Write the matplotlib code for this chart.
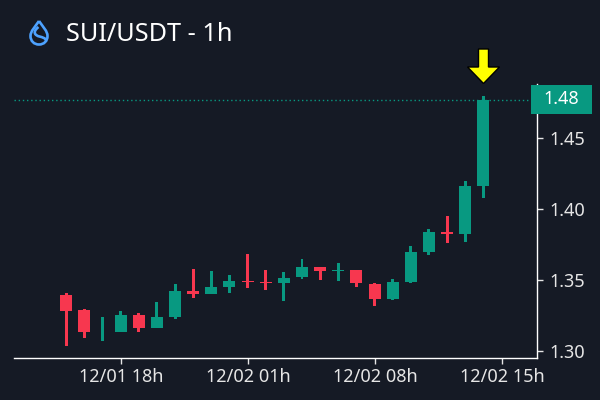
import matplotlib
matplotlib.use("Agg")
import matplotlib.pyplot as plt
import matplotlib.dates as mdates
from matplotlib.patches import Polygon, PathPatch, Rectangle
from matplotlib.path import Path
from datetime import datetime, timedelta

# hourly candles, 12/01 15h to 12/02 14h
start = datetime(2024, 12, 1, 15)
opens = [1.3394, 1.3288, 1.3070, 1.3134, 1.3253, 1.3162, 1.3239, 1.3422, 1.3401, 1.3450, 1.3492, 1.3485,
         1.3478, 1.3520, 1.3591, 1.3563, 1.3570, 1.3471, 1.3366, 1.3485, 1.3696, 1.3837, 1.3823, 1.4160]
closes = [1.3281, 1.3134, 1.3070, 1.3253, 1.3162, 1.3239, 1.3422, 1.3401, 1.3450, 1.3492, 1.3485, 1.3478,
          1.3513, 1.3591, 1.3563, 1.3570, 1.3478, 1.3366, 1.3485, 1.3696, 1.3837, 1.3823, 1.4160, 1.4762]
highs = [1.3408, 1.3295, 1.3239, 1.3281, 1.3267, 1.3345, 1.3471, 1.3577, 1.3563, 1.3534, 1.3682, 1.3570,
         1.3556, 1.3647, 1.3591, 1.3619, 1.3570, 1.3478, 1.3506, 1.3738, 1.3858, 1.3949, 1.4195, 1.4793]
lows = [1.3035, 1.3091, 1.3070, 1.3134, 1.3134, 1.3162, 1.3225, 1.3373, 1.3401, 1.3408, 1.3443, 1.3429,
        1.3352, 1.3506, 1.3499, 1.3492, 1.3450, 1.3316, 1.3359, 1.3478, 1.3675, 1.3759, 1.3766, 1.4076]
up_flags = [False, False, True, True, False, True, True, False, True, True, False, False,
            True, True, False, True, False, False, True, True, True, False, True, True]
yticks = [1.30, 1.35, 1.40, 1.45]
xticks = [datetime(2024, 12, 1, 18), datetime(2024, 12, 2, 1), datetime(2024, 12, 2, 8), datetime(2024, 12, 2, 15)]
last_price = 1.4762
title = "SUI/USDT - 1h"

BG = "#151a25"
GREEN = "#089981"
RED = "#f7374f"
FG = "#e6e6e6"
FONT = "Noto Sans"

plt.rcParams["font.family"] = FONT
W, H = 600, 400
fig = plt.figure(figsize=(W / 100, H / 100), dpi=100, facecolor=BG)

# axes box in pixels: x 14-536.5, y 84-358
ax = fig.add_axes([14 / W, (H - 358) / H, 522.5 / W, 274 / H], facecolor=BG)
hour = 1 / 24
times = [mdates.date2num(start + timedelta(hours=i)) for i in range(len(opens))]
# candles sit a bit left of the tick in the reference
shift = -0.7 / 18.14 * hour
body_w = hour * 12 / 18.14
wick_w = hour * 3 / 18.14

for t, o, c, hi, lo, up in zip(times, opens, closes, highs, lows, up_flags):
    col = GREEN if up else RED
    ax.bar(t + shift, hi - lo, bottom=lo, width=wick_w, color=col, linewidth=0, zorder=2)
    if o != c:
        ax.bar(t + shift, abs(c - o), bottom=min(o, c), width=body_w, color=col, linewidth=0, zorder=3)

ax.set_ylim(1.30 - 7 / 1422, 1.30 + 267 / 1422)
t0 = mdates.date2num(xticks[0])
ax.set_xlim(t0 + (14 - 121.3) / 18.14 * hour, t0 + (536.5 - 121.3) / 18.14 * hour)

ax.axhline(last_price, color=GREEN, linestyle=(0, (1, 2)), linewidth=1, zorder=1)

ax.yaxis.tick_right()
ax.set_yticks(yticks)
ax.set_yticklabels([f"{v:.2f}" for v in yticks])
ax.set_xticks([mdates.date2num(t) for t in xticks])
ax.xaxis.set_major_formatter(mdates.DateFormatter("%m/%d %Hh"))
ax.tick_params(axis="both", colors=FG, labelsize=13, length=4, width=1)
ax.tick_params(axis="x", pad=3)
ax.tick_params(axis="y", pad=5)
for side in ["top", "left"]:
    ax.spines[side].set_visible(False)
for side in ["bottom", "right"]:
    ax.spines[side].set_color("white")
    ax.spines[side].set_linewidth(1)

# overlay in pixel coordinates for the logo, the arrow and the price tag
ov = fig.add_axes([0, 0, 1, 1], facecolor="none")
ov.set_xlim(0, W)
ov.set_ylim(H, 0)
ov.axis("off")

ov.add_patch(Rectangle((531, 85), 61, 29, color=GREEN, linewidth=0))
ov.text(561, 99, f"{last_price:.2f}", color="white", fontsize=13, ha="center", va="center")

arrow_x = 483.5
ov.add_patch(Polygon([(arrow_x - 5, 49), (arrow_x + 5, 49), (arrow_x + 5, 67), (arrow_x + 16, 67),
                      (arrow_x, 83.5), (arrow_x - 16, 67), (arrow_x - 5, 67)],
                     closed=True, facecolor="#ffff00", edgecolor="black", linewidth=1))

# drop shaped logo
drop = Path([(39, 21), (35, 27), (30.5, 31), (30.5, 36), (30.5, 41), (34, 44.5), (39, 44.5),
             (44, 44.5), (47.5, 41), (47.5, 36), (47.5, 31), (43, 27), (39, 21)],
            [Path.MOVETO] + [Path.CURVE4] * 12)
ov.add_patch(PathPatch(drop, facecolor="none", edgecolor="#4da2ff", linewidth=1.9))
swoosh = Path([(38.5, 27), (32, 32), (35, 35.5), (39.5, 36.5), (43, 37.5), (45.5, 38), (46, 40.5)],
              [Path.MOVETO] + [Path.CURVE4] * 6)
ov.add_patch(PathPatch(swoosh, facecolor="none", edgecolor="#4da2ff", linewidth=1.9))

ov.text(66, 40.7, title, color="white", fontsize=18.2, ha="left", va="baseline")

fig.savefig("out.png", dpi=100, facecolor=BG)
